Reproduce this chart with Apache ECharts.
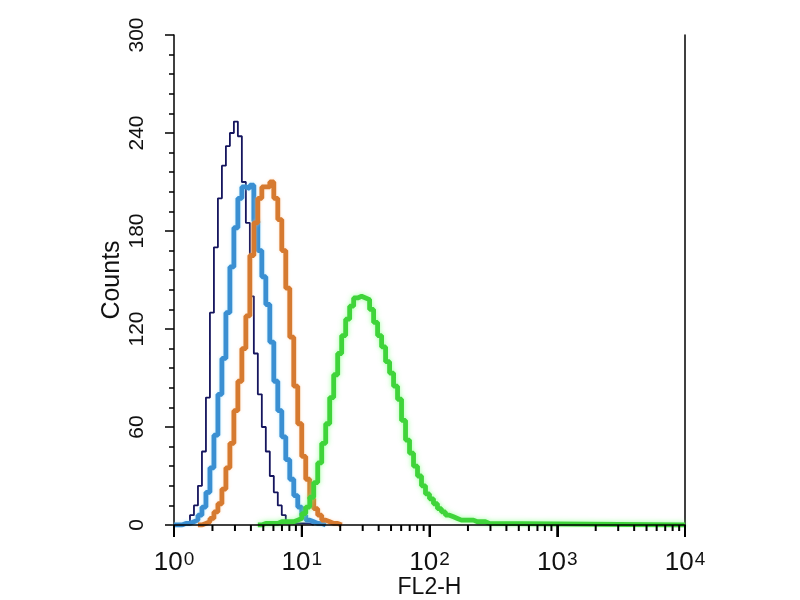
<!DOCTYPE html>
<html>
<head>
<meta charset="utf-8">
<script src="https://cdn.jsdelivr.net/npm/echarts@6/dist/echarts.min.js"></script>
<style>
  html, body { margin: 0; padding: 0; background: #fff; }
  #chart { width: 800px; height: 600px; }
</style>
</head>
<body>
<div id="chart"></div>
<script>
// histogram channels: 32 bins per decade, channel k starts at 10^(k/32)
var binsPerDecade = 32;

// counts per channel
var navyStart = 0;
var navyCounts = [0, 0, 1, 2, 6, 12, 24, 45, 78, 130, 170, 200, 220, 232, 240, 247, 238, 210, 185, 140,
  105, 80, 60, 45, 30, 20, 12, 6, 2, 1, 1, 1, 1, 1, 0];

var blueStart = 0;
var blueCounts = [0, 0, 1, 1, 2, 3, 6, 11, 20, 35, 55, 80, 102, 130, 158, 182, 200, 207, 206, 208,
  186, 168, 152, 135, 112, 88, 70, 54, 40, 28, 18, 11, 6, 3, 2, 1, 1, 0];

var orangeStart = 6;
var orangeCounts = [0, 1, 2, 4, 8, 13, 22, 35, 50, 70, 88, 108, 128, 165, 185, 200, 207, 207, 210, 200,
  187, 168, 145, 115, 85, 62, 42, 28, 16, 10, 6, 3, 2, 1, 1, 0];

var greenStart = 21;
var greenCounts = [0, 1, 1, 1, 1, 2, 2, 2, 2, 3, 4, 7, 11, 17, 26, 38, 50, 62, 78, 92,
  105, 116, 126, 134, 139, 140, 139, 138, 132, 124, 116, 109, 100, 93, 85, 77, 64, 52, 44, 36,
  30, 24, 19, 16, 13, 10, 8, 6, 5, 4, 3, 3, 3, 3, 2, 2, 2, 1, 0];

var majorTicks = [1, 10, 100, 1000, 10000];
var yTicks = [0, 60, 120, 180, 240, 300];

// minor ticks at 2..9 inside each decade
var minorTicks = [];
for (var d = 0; d < majorTicks.length - 1; d++) {
  for (var m = 2; m <= 9; m++) minorTicks.push(majorTicks[d] * m);
}

function toSteps(start, counts, endAt) {
  var pts = [];
  for (var k = 0; k < counts.length; k++) {
    pts.push([Math.pow(10, (start + k) / binsPerDecade), counts[k]]);
  }
  pts.push([endAt || Math.pow(10, (start + counts.length) / binsPerDecade), 0]);
  return pts;
}

var font = "'Liberation Sans', Arial, sans-serif";
var chart = echarts.init(document.getElementById('chart'));

var option = {
  animation: false,
  backgroundColor: '#fff',
  grid: { left: 174, right: 115, top: 35, bottom: 75, containLabel: false, outerBoundsMode: 'none' },
  xAxis: {
    type: 'log',
    logBase: 10,
    min: 1,
    max: 10000,
    position: 'bottom',
    name: 'FL2-H',
    nameLocation: 'middle',
    nameGap: 51,
    nameMoveOverlap: false,
    nameTextStyle: { color: '#111', fontSize: 23, fontFamily: font, verticalAlign: 'top' },
    axisLine: { onZero: false, lineStyle: { color: '#000', width: 1.5 } },
    axisTick: { show: true, inside: false, length: 12, lineStyle: { color: '#000', width: 2 } },
    axisLabel: {
      margin: 25,
      color: '#111',
      fontFamily: font,
      formatter: function (v) {
        return '{b|10}{s|' + Math.round(Math.log10(v)) + '}';
      },
      rich: {
        b: { fontSize: 26, fontFamily: font, color: '#111', lineHeight: 26, padding: [10, 0, 0, 0], verticalAlign: 'bottom' },
        s: { fontSize: 19, fontFamily: font, color: '#111', lineHeight: 19, verticalAlign: 'top', padding: [0, 0, 0, 1] }
      }
    },
    splitLine: { show: false },
    z: 10
  },
  yAxis: [{
    type: 'value',
    min: yTicks[0],
    max: yTicks[yTicks.length - 1],
    interval: 60,
    name: 'Counts',
    nameLocation: 'middle',
    nameGap: 49,
    nameMoveOverlap: false,
    nameTextStyle: { color: '#111', fontSize: 25, fontFamily: font },
    axisLine: { show: true, lineStyle: { color: '#000', width: 1.5 } },
    axisTick: { show: true, length: 9, lineStyle: { color: '#000', width: 1.5 } },
    minorTick: { show: true, splitNumber: 5, length: 5, lineStyle: { color: '#000', width: 1.5 } },
    axisLabel: { rotate: 90, margin: 26, color: '#111', fontSize: 21, fontFamily: font },
    splitLine: { show: false }
  }, {
    type: 'value',
    position: 'right',
    min: 0,
    max: 300,
    axisLine: { show: true, lineStyle: { color: '#000', width: 1.5 } },
    axisTick: { show: false },
    axisLabel: { show: false },
    splitLine: { show: false }
  }],
  series: [{
    name: 'isotype',
    type: 'line',
    step: 'end',
    showSymbol: false,
    data: toSteps(navyStart, navyCounts),
    lineStyle: { color: '#15155e', width: 1.8 },
    z: 2
  }, {
    name: 'control',
    type: 'line',
    step: 'end',
    showSymbol: false,
    data: toSteps(blueStart, blueCounts),
    lineStyle: { color: '#3a8fd2', width: 4.8, shadowBlur: 3, shadowColor: 'rgba(140,220,255,0.6)' },
    z: 3
  }, {
    name: 'blank',
    type: 'line',
    step: 'end',
    showSymbol: false,
    data: toSteps(orangeStart, orangeCounts),
    lineStyle: { color: '#d67a30', width: 4.8, shadowBlur: 3, shadowColor: 'rgba(255,200,150,0.6)' },
    z: 4
  }, {
    name: 'antibody',
    type: 'line',
    step: 'end',
    showSymbol: false,
    data: toSteps(greenStart, greenCounts, 10000),
    lineStyle: { color: '#3fd43a', width: 4.8, shadowBlur: 5, shadowColor: 'rgba(120,255,120,0.7)' },
    z: 5
  }]
};

chart.setOption(option);

// log-axis ticks (major + 2..9 minor), placed through the axis scale
function tickLine(v, len) {
  var p = chart.convertToPixel({ xAxisIndex: 0, yAxisIndex: 0 }, [v, 0]);
  return {
    type: 'line',
    silent: true,
    z: 100,
    shape: { x1: p[0], y1: p[1], x2: p[0], y2: p[1] + len },
    style: { stroke: '#000', lineWidth: 2 }
  };
}
var ticks = majorTicks.map(function (v) { return tickLine(v, 12); })
  .concat(minorTicks.map(function (v) { return tickLine(v, 6); }));
chart.setOption({ graphic: { elements: ticks } });
</script>
</body>
</html>
